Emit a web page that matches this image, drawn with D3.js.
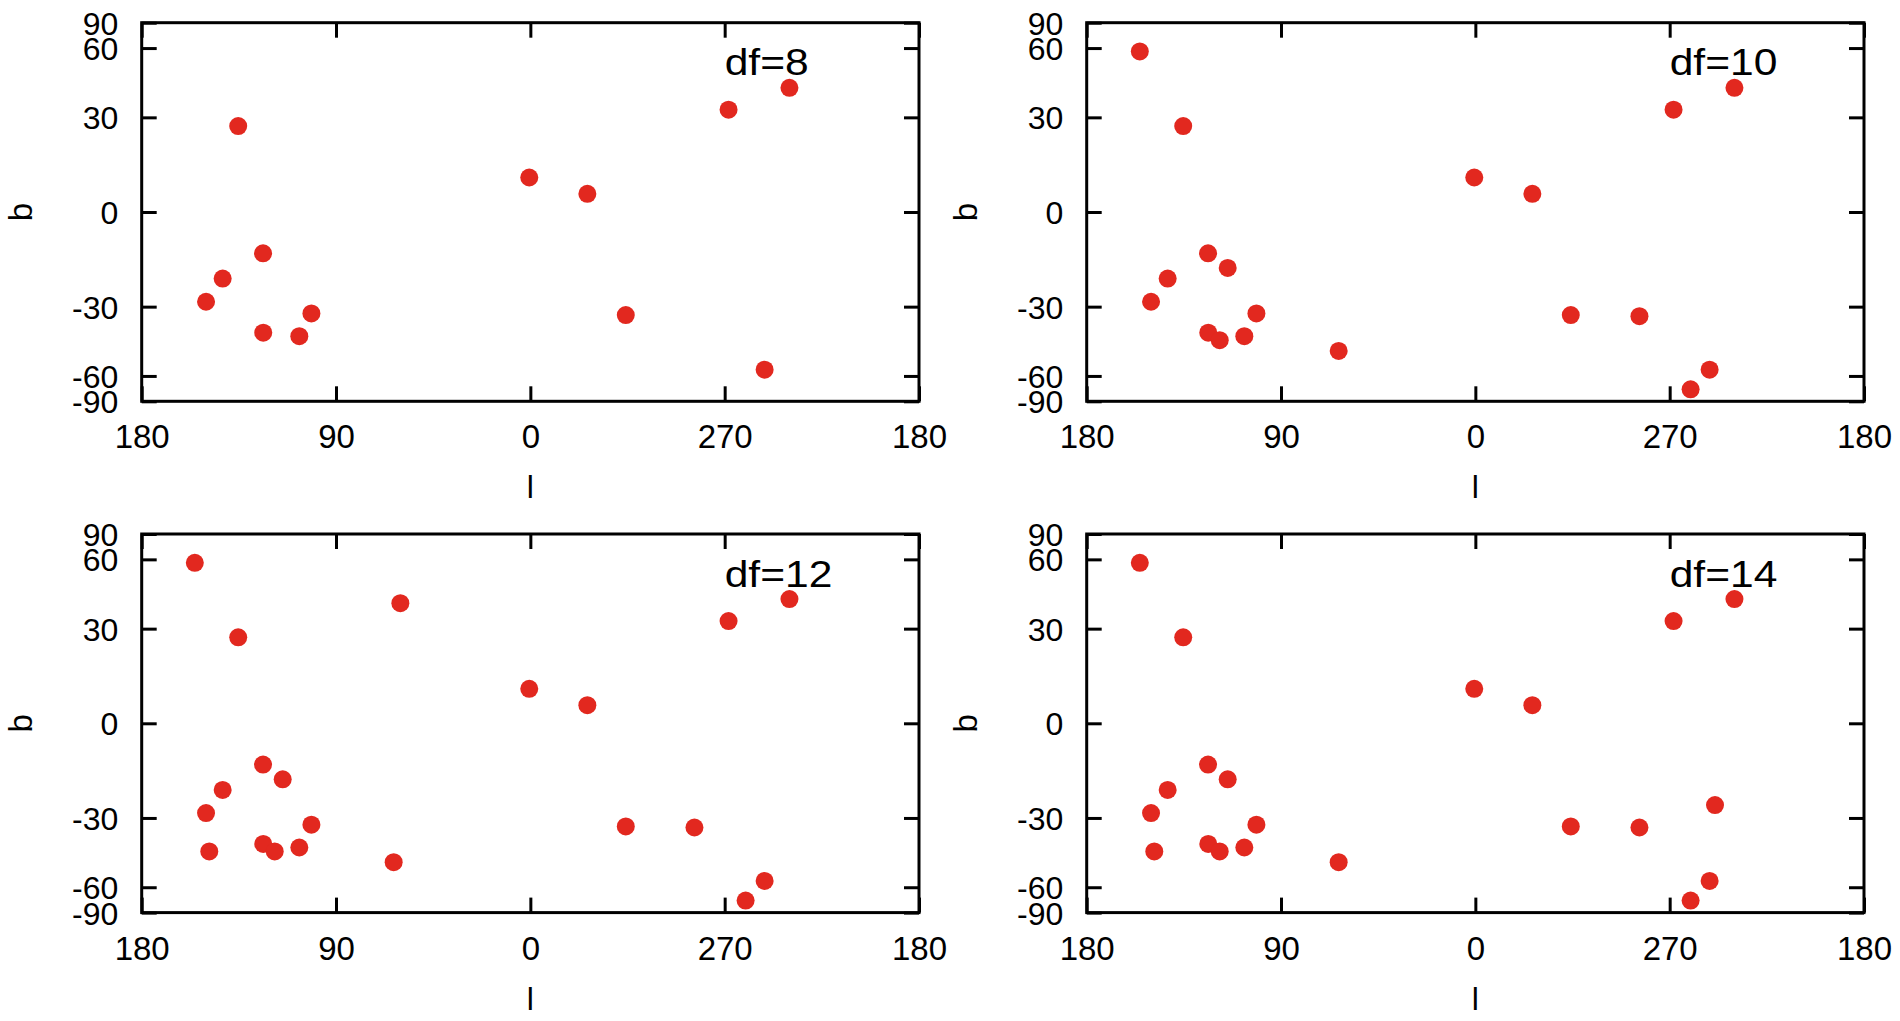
<!DOCTYPE html>
<html>
<head>
<meta charset="utf-8">
<script src="https://cdn.jsdelivr.net/npm/d3@7"></script>
<style>
  body { margin: 0; background: #fff; }
  text { font-family: "Liberation Sans", Arial, Helvetica, sans-serif; fill: #000; }
</style>
</head>
<body>
<script>
// galactic coordinates (l, b) in degrees, one pair of arrays per panel
const df8L  = [135.3, 0.5, 333.6, 268.2, 240.0, 123.8, 142.5, 150.2, 101.4, 123.7, 107.0, 315.8, 251.5];
const df8B  = [27.0, 10.5, 5.5, 32.7, 41.0, -12.6, -20.6, -28.3, -32.4, -39.6, -41.0, -33.0, -56.4];

const df10L = [155.4, 135.3, 0.5, 333.6, 268.2, 240.0, 123.8, 114.7, 142.5, 150.2, 101.4, 123.7, 118.4, 107.0, 63.3, 315.8, 284.0, 251.5, 260.3];
const df10B = [58.0, 27.0, 10.5, 5.5, 32.7, 41.0, -12.6, -17.2, -20.6, -28.3, -32.4, -39.6, -42.6, -41.0, -47.2, -33.0, -33.4, -56.4, -69.5];

const df12L = [155.4, 60.2, 135.3, 0.5, 333.6, 268.2, 240.0, 123.8, 114.7, 142.5, 150.2, 148.7, 101.4, 123.7, 118.4, 107.0, 63.3, 315.8, 284.0, 251.5, 260.3];
const df12B = [58.0, 39.4, 27.0, 10.5, 5.5, 32.7, 41.0, -12.6, -17.2, -20.6, -28.3, -42.6, -32.4, -39.6, -42.6, -41.0, -47.2, -33.0, -33.4, -56.4, -69.5];

const df14L = [155.4, 135.3, 0.5, 333.6, 268.2, 240.0, 123.8, 114.7, 142.5, 150.2, 148.7, 101.4, 123.7, 118.4, 107.0, 63.3, 315.8, 284.0, 249.0, 251.5, 260.3];
const df14B = [58.0, 27.0, 10.5, 5.5, 32.7, 41.0, -12.6, -17.2, -20.6, -28.3, -42.6, -32.4, -39.6, -42.6, -41.0, -47.2, -33.0, -33.4, -25.6, -56.4, -69.5];

const panelLabels = ["df=8", "df=10", "df=12", "df=14"];

// axis ticks: x is longitude wrapped to (-180,180], shown decreasing to the right
const xTickPos  = [180, 90, 0, -90, -180];
const xTickText = ["180", "90", "0", "270", "180"];
const yTickVals = [90, 60, 30, 0, -30, -60, -90];

const panels = [
  {L: df8L,  B: df8B,  label: panelLabels[0], x: 141.7,  y: 22.7},
  {L: df10L, B: df10B, label: panelLabels[1], x: 1086.7, y: 22.7},
  {L: df12L, B: df12B, label: panelLabels[2], x: 141.7,  y: 534},
  {L: df14L, B: df14B, label: panelLabels[3], x: 1086.7, y: 534}
];

const width = 1900, height = 1021;
const w = 777.3, h = 378.6;
const tick = 15;
const red = "#e2281f";
const rad = Math.PI / 180;

const wrap = l => (l > 180 ? l - 360 : l);
const x = d3.scaleLinear().domain([180, -180]).range([0, w]);
// equal-area in latitude: position follows sin(b)
const ys = d3.scaleLinear().domain([-1, 1]).range([h, 0]);
const y = b => ys(Math.sin(b * rad));

const svg = d3.select("body").append("svg")
  .attr("width", width)
  .attr("height", height);

svg.append("rect").attr("width", width).attr("height", height).attr("fill", "#fff");

panels.forEach(p => {
  const g = svg.append("g").attr("transform", `translate(${p.x},${p.y})`);

  const pts = p.L.map((l, i) => ({l: l, b: p.B[i]}));

  // bottom axis with labels, ticks pointing inward
  g.append("g")
    .attr("transform", `translate(0,${h})`)
    .call(d3.axisBottom(x).tickValues(xTickPos).tickFormat((d, i) => xTickText[i])
      .tickSizeInner(-tick).tickSizeOuter(0).tickPadding(23.5))
    .call(a => a.select(".domain").remove())
    .call(a => a.selectAll("line").attr("stroke", "#000").attr("stroke-width", 3))
    .call(a => a.selectAll("text").attr("font-size", 33).attr("fill", "#000"));

  // top mirror ticks
  g.append("g")
    .call(d3.axisTop(x).tickValues(xTickPos).tickFormat("")
      .tickSizeInner(-tick).tickSizeOuter(0))
    .call(a => a.select(".domain").remove())
    .call(a => a.selectAll("line").attr("stroke", "#000").attr("stroke-width", 3));

  const yPos = yTickVals.map(b => Math.sin(b * rad));

  g.append("g")
    .call(d3.axisLeft(ys).tickValues(yPos).tickFormat((d, i) => yTickVals[i])
      .tickSizeInner(-tick).tickSizeOuter(0).tickPadding(23.4))
    .call(a => a.select(".domain").remove())
    .call(a => a.selectAll("line").attr("stroke", "#000").attr("stroke-width", 3))
    .call(a => a.selectAll("text").attr("font-size", 32).attr("dy", "0.36em").attr("fill", "#000"));

  g.append("g")
    .attr("transform", `translate(${w},0)`)
    .call(d3.axisRight(ys).tickValues(yPos).tickFormat("")
      .tickSizeInner(-tick).tickSizeOuter(0))
    .call(a => a.select(".domain").remove())
    .call(a => a.selectAll("line").attr("stroke", "#000").attr("stroke-width", 3));

  // frame
  g.append("rect")
    .attr("width", w)
    .attr("height", h)
    .attr("fill", "none")
    .attr("stroke", "#000")
    .attr("stroke-width", 3);

  g.append("g")
    .selectAll("circle")
    .data(pts)
    .enter().append("circle")
      .attr("cx", d => x(wrap(d.l)))
      .attr("cy", d => y(d.b))
      .attr("r", 9)
      .attr("fill", red);

  g.append("text")
    .attr("transform", `translate(583,52.5) scale(1.15,1)`)
    .attr("font-size", 37)
    .text(p.label);

  g.append("text")
    .attr("transform", `translate(-121.7,${h / 2}) rotate(-90)`)
    .attr("text-anchor", "middle")
    .attr("dy", "0.36em")
    .attr("font-size", 33)
    .text("b");

  g.append("text")
    .attr("x", w / 2)
    .attr("y", 475.5)
    .attr("text-anchor", "middle")
    .attr("font-size", 32)
    .text("l");
});
</script>
</body>
</html>
